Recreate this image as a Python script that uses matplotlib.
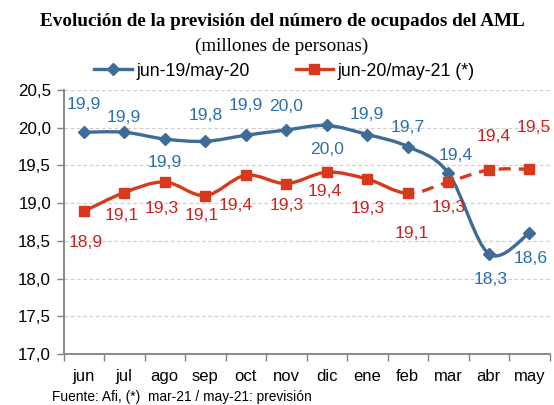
import matplotlib
matplotlib.use("Agg")
import matplotlib.pyplot as plt
import numpy as np
from matplotlib.path import Path
from matplotlib.patches import PathPatch
from matplotlib.ticker import FuncFormatter, FixedLocator

months = ["jun", "jul", "ago", "sep", "oct", "nov", "dic", "ene", "feb", "mar", "abr", "may"]
serie_1920 = [19.94, 19.94, 19.85, 19.82, 19.90, 19.97, 20.03, 19.91, 19.75, 19.40, 18.33, 18.60]
serie_2021 = [18.89, 19.14, 19.28, 19.10, 19.37, 19.26, 19.41, 19.32, 19.13, 19.28, 19.44, 19.45]
labels_1920 = ["19,9", "19,9", "19,9", "19,8", "19,9", "20,0", "20,0", "19,9", "19,7", "19,4", "18,3", "18,6"]
labels_2021 = ["18,9", "19,1", "19,3", "19,1", "19,4", "19,3", "19,4", "19,3", "19,1", "19,3", "19,4", "19,5"]
forecast_start = 8  # dashed from feb onwards

# label offsets in pixels (dx, dy) – positive dy is up
off_1920 = [(0, 28), (0, 15), (0, -23), (0, 26), (0, 30), (0, 23), (0, -24), (0, 20),
            (0, 19), (8, 17), (2, -26), (1, -25)]
off_2021 = [(2, -31), (-3, -23), (-3, -26), (-4, -20), (-10, -30), (0, -22), (-2, -19), (0, -29),
            (4, -40), (0, -25), (5, 33), (4, 42)]

BLUE = "#3F6B98"
BLUE_T = "#2A6EB0"
RED = "#D8381C"
RED_T = "#C8231C"

plt.rcParams["font.family"] = ["Liberation Sans", "DejaVu Sans"]

fig = plt.figure(figsize=(5.54, 4.05), dpi=100)
ax = fig.add_axes([63.5 / 554, 1 - 354 / 405, 486 / 554, 264 / 405])

x = np.arange(len(months))


def bezier_segments(xs, ys):
    pts = np.column_stack([xs, ys])
    n = len(pts)
    segs = []
    for i in range(n - 1):
        p0 = pts[i - 1] if i > 0 else pts[i]
        p1 = pts[i]
        p2 = pts[i + 1]
        p3 = pts[i + 2] if i + 2 < n else pts[i + 1]
        c1 = p1 + (p2 - p0) / 6.0
        c2 = p2 - (p3 - p1) / 6.0
        segs.append((p1, c1, c2, p2))
    return segs


def path_from(segs):
    verts = [segs[0][0]]
    codes = [Path.MOVETO]
    for (_, c1, c2, p2) in segs:
        verts += [c1, c2, p2]
        codes += [Path.CURVE4] * 3
    return Path(np.array(verts), codes)


segs_b = bezier_segments(x, serie_1920)
ax.add_patch(PathPatch(path_from(segs_b), facecolor="none", edgecolor=BLUE, lw=2.4,
                       capstyle="round", joinstyle="round", zorder=3))
ax.plot(x, serie_1920, linestyle="none", marker="D", markersize=6.5, color=BLUE, zorder=4)

segs_r = bezier_segments(x, serie_2021)
ax.add_patch(PathPatch(path_from(segs_r[:forecast_start]), facecolor="none", edgecolor=RED, lw=2.4,
                       capstyle="round", joinstyle="round", zorder=3))
ax.add_patch(PathPatch(path_from(segs_r[forecast_start:]), facecolor="none", edgecolor=RED, lw=2.4,
                       linestyle=(1.6, (3.6, 2.4)), zorder=3))
ax.plot(x, serie_2021, linestyle="none", marker="s", markersize=7, color=RED, zorder=4)

for i in range(len(months)):
    ax.annotate(labels_1920[i], (x[i], serie_1920[i]), xytext=off_1920[i], textcoords="offset pixels",
                ha="center", va="center", color=BLUE_T, fontsize=12.6, zorder=5)
    ax.annotate(labels_2021[i], (x[i], serie_2021[i]), xytext=off_2021[i], textcoords="offset pixels",
                ha="center", va="center", color=RED_T, fontsize=12.6, zorder=5)

ax.set_xlim(-0.5, len(months) - 0.5)
ax.set_ylim(17.0, 20.5)
ax.set_yticks(np.arange(17.0, 20.51, 0.5))
ax.yaxis.set_major_formatter(FuncFormatter(lambda v, p: f"{v:.1f}".replace(".", ",")))
ax.set_xticks(x)
ax.set_xticklabels(months)
ax.xaxis.set_minor_locator(FixedLocator(np.arange(-0.5, len(months), 1.0)))
ax.tick_params(axis="x", which="major", length=0, pad=11, labelsize=12, colors="black")
ax.tick_params(axis="x", which="minor", length=5, width=1, color="#808080", direction="out")
ax.tick_params(axis="y", length=5, width=1, color="#808080", labelsize=12.2, labelcolor="black", pad=4)

ax.grid(axis="y", color="#D0D0D0", linestyle=(0, (3, 2)), linewidth=0.9)
for s in ["top", "right"]:
    ax.spines[s].set_visible(False)
for s in ["left", "bottom"]:
    ax.spines[s].set_color("#808080")
    ax.spines[s].set_linewidth(1.3)
ax.set_axisbelow(True)

fig.text(282.5 / 554, 1 - 21 / 405, "Evolución de la previsión del número de ocupados del AML",
         ha="center", va="center", fontsize=13.8, fontweight="bold",
         family=["Liberation Serif", "DejaVu Serif"])
fig.text(281.5 / 554, 1 - 46 / 405, "(millones de personas)", ha="center", va="center", fontsize=13.8,
         family=["Liberation Serif", "DejaVu Serif"])

h1, = ax.plot([], [], color=BLUE, lw=2.4, marker="D", markersize=6.5)
h2, = ax.plot([], [], color=RED, lw=2.4, marker="s", markersize=7)
fig.legend([h1, h2], ["jun-19/may-20", "jun-20/may-21 (*)"], loc="center",
           bbox_to_anchor=(284.5 / 554, 1 - 71 / 405), ncol=2, frameon=False, fontsize=12.8,
           handlelength=2.1, handletextpad=0.25, columnspacing=2.6)

fig.text(52 / 554, 1 - 397 / 405, "Fuente: Afi, (*)  mar-21 / may-21: previsión",
         ha="left", va="center", fontsize=9.9)

fig.savefig("out.png", dpi=100)
